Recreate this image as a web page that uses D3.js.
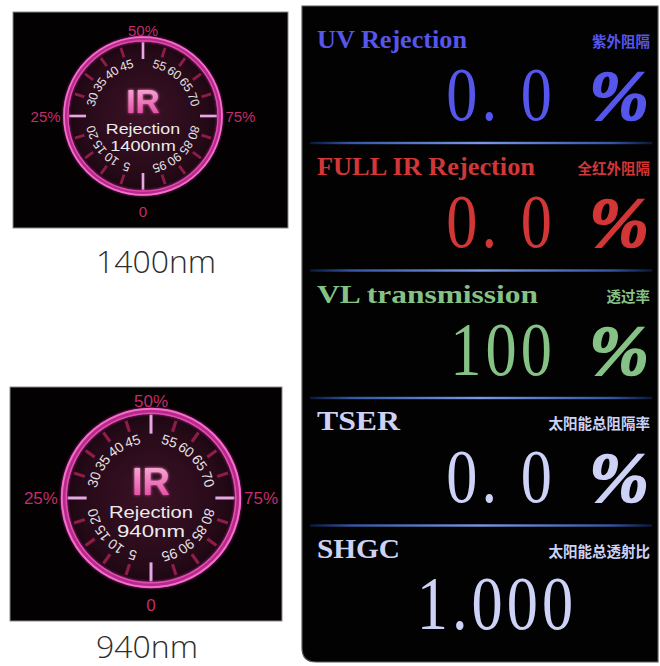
<!DOCTYPE html>
<html><head><meta charset="utf-8">
<script src="https://cdn.jsdelivr.net/npm/d3@7"></script>
<style>body{margin:0;background:#fff;} svg{display:block}</style>
</head><body>
<svg id="c" width="660" height="666"></svg>
<script>
// ---- data ----
const wavelengths = ["1400nm", "940nm"];
const majorValues = [0, 25, 50, 75];
const majorLabels = ["0", "25%", "50%", "75%"];
const minorValues = [5, 10, 15, 20, 30, 35, 40, 45, 55, 60, 65, 70, 80, 85, 90, 95];
const minorLabels = ["5", "10", "15", "20", "30", "35", "40", "45", "55", "60", "65", "70", "80", "85", "90", "95"];
const metricTitles = ["UV Rejection", "FULL IR Rejection", "VL transmission", "TSER", "SHGC"];
const metricSubtitles = ["紫外阻隔", "全红外阻隔", "透过率", "太阳能总阻隔率", "太阳能总透射比"];
const metricValues = ["0. 0", "0. 0", "100", "0. 0", "1.000"];
const metricUnits = ["%", "%", "%", "%", ""];

// ---- layout / style ----
const gaugeLayout = [
  {cx: 143, cy: 116, r: 77, panel: [13, 12, 275, 216], capY: 273, capX: 156},
  {cx: 151, cy: 498, r: 87, panel: [10, 387, 272, 234], capY: 658, capX: 147}
];
const metricColors = ["#5656ec", "#d23636", "#86c286", "#cdd2f6", "#cdd2f6"];
const titleWidths = [150, 218, 221, 83, 83];

const svg = d3.select("#c");
const defs = svg.append("defs");

const disc = defs.append("radialGradient").attr("id", "disc");
disc.append("stop").attr("offset", "0%").attr("stop-color", "#3c1226");
disc.append("stop").attr("offset", "80%").attr("stop-color", "#260a18");
disc.append("stop").attr("offset", "100%").attr("stop-color", "#1a0510");

const irg = defs.append("linearGradient").attr("id", "irg").attr("x1", 0).attr("y1", 0).attr("x2", 0).attr("y2", 1);
irg.append("stop").attr("offset", "0%").attr("stop-color", "#ffb6e0");
irg.append("stop").attr("offset", "100%").attr("stop-color", "#e03c9a");

const glow = defs.append("filter").attr("id", "glow").attr("x", "-20%").attr("y", "-20%").attr("width", "140%").attr("height", "140%");
glow.append("feGaussianBlur").attr("stdDeviation", 1.6).attr("result", "b");
const fm = glow.append("feMerge");
fm.append("feMergeNode").attr("in", "b");
fm.append("feMergeNode").attr("in", "SourceGraphic");

const sepg = defs.append("linearGradient").attr("id", "sep");
[["0%", "#0a1838"], ["12%", "#3656a8"], ["50%", "#7a98e6"], ["88%", "#3656a8"], ["100%", "#0a1838"]]
  .forEach(([o, c]) => sepg.append("stop").attr("offset", o).attr("stop-color", c));

const angle = d3.scaleLinear().domain([0, 100]).range([180, 540]);

wavelengths.forEach((wl, gi) => {
  const L = gaugeLayout[gi];
  const k = L.r / 87;
  const g = svg.append("g");
  const pt = (v, rr) => {
    const a = angle(v) * Math.PI / 180;
    return [L.cx + rr * Math.sin(a), L.cy - rr * Math.cos(a)];
  };
  g.append("rect").attr("x", L.panel[0]).attr("y", L.panel[1]).attr("width", L.panel[2]).attr("height", L.panel[3])
    .attr("fill", "#030102").attr("stroke", "#8a8a8a").attr("stroke-width", 1);
  g.append("circle").attr("cx", L.cx).attr("cy", L.cy).attr("r", L.r).attr("fill", "url(#disc)");
  // minor ticks
  g.selectAll(".mt").data(minorValues).join("line")
    .attr("x1", d => pt(d, L.r * 0.80)[0]).attr("y1", d => pt(d, L.r * 0.80)[1])
    .attr("x2", d => pt(d, L.r * 0.93)[0]).attr("y2", d => pt(d, L.r * 0.93)[1])
    .attr("stroke", "#8e1c48").attr("stroke-width", 3.2 * k);
  // major ticks
  g.selectAll(".Mt").data(majorValues).join("line")
    .attr("x1", d => pt(d, L.r * 0.74)[0]).attr("y1", d => pt(d, L.r * 0.74)[1])
    .attr("x2", d => pt(d, L.r * 0.96)[0]).attr("y2", d => pt(d, L.r * 0.96)[1])
    .attr("stroke", "#e8a6e4").attr("stroke-width", 3 * k);
  // ring
  g.append("circle").attr("cx", L.cx).attr("cy", L.cy).attr("r", L.r).attr("fill", "none")
    .attr("stroke", "#b82c88").attr("stroke-width", 6 * k).attr("filter", "url(#glow)");
  g.append("circle").attr("cx", L.cx).attr("cy", L.cy).attr("r", L.r + 2.2 * k).attr("fill", "none")
    .attr("stroke", "#f46ccc").attr("stroke-width", 2 * k);
  g.append("circle").attr("cx", L.cx).attr("cy", L.cy).attr("r", L.r - 2.2 * k).attr("fill", "none")
    .attr("stroke", "#e050b4").attr("stroke-width", 1.4 * k);
  // minor labels
  g.selectAll(".ml").data(minorValues).join("text")
    .attr("transform", d => {
      const p = pt(d, L.r * 0.69);
      return `translate(${p[0]},${p[1]}) rotate(${angle(d)})`;
    })
    .attr("text-anchor", "middle").attr("dominant-baseline", "central")
    .attr("font-family", "Liberation Sans, Arial, sans-serif").attr("font-size", 14 * k)
    .attr("fill", "#e6e0e6").text((d, i) => minorLabels[i]);
  // major labels
  g.selectAll(".Ml").data(majorValues).join("text")
    .attr("x", d => {
      const s = Math.round(Math.sin(angle(d) * Math.PI / 180));
      return s === 0 ? pt(d, 0)[0] : pt(d, L.r * 1.07)[0];
    })
    .attr("y", d => {
      const c = Math.round(Math.cos(angle(d) * Math.PI / 180));
      return c === 0 ? pt(d, 0)[1] : pt(d, L.r * (c > 0 ? 1.11 : 1.24))[1];
    })
    .attr("text-anchor", d => {
      const s = Math.round(Math.sin(angle(d) * Math.PI / 180));
      return s === 0 ? "middle" : (s > 0 ? "start" : "end");
    })
    .attr("dominant-baseline", "central")
    .attr("font-family", "Liberation Sans, Arial, sans-serif").attr("font-size", 17 * k)
    .attr("fill", "#c42c6c").text((d, i) => majorLabels[i]);
  // center texts
  g.append("text").attr("x", L.cx).attr("y", L.cy - 3).attr("text-anchor", "middle")
    .attr("font-family", "Liberation Sans, Arial, sans-serif").attr("font-weight", "bold")
    .attr("font-size", 38 * k).attr("fill", "url(#irg)").attr("filter", "url(#glow)").text("IR");
  g.append("text").attr("x", L.cx).attr("y", L.cy + 20 * k).attr("text-anchor", "middle")
    .attr("font-family", "Liberation Sans, Arial, sans-serif")
    .attr("font-size", 17 * k).attr("textLength", 84 * k).attr("lengthAdjust", "spacingAndGlyphs")
    .attr("fill", "#ececec").text("Rejection");
  g.append("text").attr("x", L.cx).attr("y", L.cy + 39 * k).attr("text-anchor", "middle")
    .attr("font-family", "Liberation Sans, Arial, sans-serif")
    .attr("font-size", 17 * k).attr("textLength", (gi === 0 ? 74 : 68) * k).attr("lengthAdjust", "spacingAndGlyphs")
    .attr("fill", "#ececec").text(wl);
  // caption
  svg.append("text").attr("x", L.capX).attr("y", L.capY).attr("text-anchor", "middle")
    .attr("font-family", "Open Sans, Noto Sans, sans-serif").attr("font-weight", 300)
    .attr("font-size", 32).attr("fill", "#2e2e2e").text(wl);
});

// ---- right panel ----
const rp = svg.append("g");
rp.append("path").attr("d", "M302,6 H658 V662 H316 Q302,662 302,648 Z")
  .attr("fill", "#020203").attr("stroke", "#5a5a5a").attr("stroke-width", 1.2);

const rowTop = d3.scaleLinear().domain([0, 1]).range([15.5, 143]);

rp.selectAll(".sep").data(metricTitles.slice(1)).join("rect")
  .attr("x", 310).attr("y", (d, i) => rowTop(i + 1) - 1.2).attr("width", 342).attr("height", 2.4)
  .attr("fill", "url(#sep)");

const rows = rp.selectAll(".row").data(metricTitles).join("g");
rows.append("text").attr("x", 317).attr("y", (d, i) => rowTop(i) + 32)
  .attr("font-family", "Liberation Serif, Times New Roman, serif").attr("font-weight", "bold")
  .attr("font-size", (d, i) => i >= 3 ? 27 : 25)
  .attr("textLength", (d, i) => titleWidths[i]).attr("lengthAdjust", "spacingAndGlyphs")
  .attr("fill", (d, i) => metricColors[i]).text(d => d);
rows.append("text").attr("x", 650).attr("y", (d, i) => rowTop(i) + 31).attr("text-anchor", "end")
  .attr("font-family", "Noto Sans CJK SC, sans-serif").attr("font-weight", "bold")
  .attr("font-size", 14.5).attr("fill", (d, i) => metricColors[i]).text((d, i) => metricSubtitles[i]);
rows.append("text")
  .attr("transform", (d, i) => metricUnits[i] ? `translate(556,${rowTop(i) + 104}) scale(0.82,1)` : `translate(497,${rowTop(i) + 103}) scale(0.82,1)`)
  .attr("text-anchor", (d, i) => metricUnits[i] ? "end" : "middle")
  .attr("font-family", "Liberation Serif, Times New Roman, serif")
  .attr("font-size", 76).attr("letter-spacing", 5)
  .attr("fill", (d, i) => metricColors[i]).text((d, i) => metricValues[i]);
rows.append("text").attr("x", 649).attr("y", (d, i) => rowTop(i) + 104).attr("text-anchor", "end")
  .attr("font-family", "Liberation Serif, Times New Roman, serif").attr("font-weight", "bold").attr("font-style", "italic")
  .attr("font-size", 72).attr("stroke", (d, i) => metricColors[i]).attr("stroke-width", 1.6)
  .attr("fill", (d, i) => metricColors[i]).text((d, i) => metricUnits[i]);
</script>
</body></html>
